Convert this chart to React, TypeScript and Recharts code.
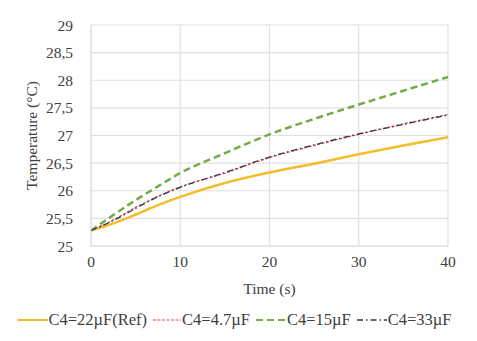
import { LineChart, Line, XAxis, YAxis, CartesianGrid, Legend } from "recharts";

const times = [0, 2.5, 5, 7.5, 10, 15, 20, 25, 30, 35, 40];
const c22ref = [25.28, 25.41, 25.57, 25.74, 25.89, 26.14, 26.33, 26.49, 26.66, 26.82, 26.97];
const c47 = [25.28, 25.47, 25.7, 25.9, 26.07, 26.32, 26.6, 26.82, 27.02, 27.21, 27.38];
const c15 = [25.28, 25.56, 25.83, 26.08, 26.32, 26.68, 27.02, 27.3, 27.56, 27.81, 28.06];
const c33 = [25.28, 25.46, 25.68, 25.89, 26.06, 26.33, 26.61, 26.83, 27.03, 27.2, 27.37];

const xTicks = [0, 10, 20, 30, 40];
const yTicks = [25, 25.5, 26, 26.5, 27, 27.5, 28, 28.5, 29];

const data = times.map((t, i) => ({
  t,
  c22ref: c22ref[i],
  c47: c47[i],
  c15: c15[i],
  c33: c33[i],
}));

const series = [
  { key: "c22ref", name: "C4=22µF(Ref)", color: "#F2BD2A", width: 2.5, dash: undefined, icon: 30 },
  { key: "c47", name: "C4=4.7µF", color: "#E0474C", width: 1.2, dash: "3 1.5", icon: 28 },
  { key: "c15", name: "C4=15µF", color: "#70AD47", width: 2.5, dash: "7 4", icon: 30 },
  { key: "c33", name: "C4=33µF", color: "#2E3A4A", width: 1.3, dash: "6 3 1.5 3", icon: 30 },
];

const font = "Liberation Serif";
const textColor = "#404040";

function LegendRow() {
  return (
    <div
      style={{
        display: "flex",
        justifyContent: "center",
        alignItems: "center",
        fontFamily: font,
        fontSize: 16.5,
        lineHeight: "18px",
        color: textColor,
        whiteSpace: "nowrap",
        marginLeft: -12,
      }}
    >
      {series.map((s) => (
        <span key={s.key} style={{ display: "inline-flex", alignItems: "center", marginRight: 6 }}>
          <svg width={s.icon} height={10} style={{ marginRight: 1 }}>
            <line
              x1={0}
              y1={5}
              x2={s.icon}
              y2={5}
              stroke={s.color}
              strokeWidth={s.width > 2 ? 2 : s.width}
              strokeDasharray={s.dash}
            />
          </svg>
          {s.name}
        </span>
      ))}
    </div>
  );
}

export default function App() {
  return (
    <div style={{ position: "absolute", left: 0, top: 0, background: "#fff" }}>
      <LineChart
        width={477}
        height={341}
        data={data}
        margin={{ top: 25, right: 29, left: 39, bottom: 4 }}
      >
        <CartesianGrid stroke="#e0e0e0" strokeWidth={1.2} />
        <XAxis
          dataKey="t"
          type="number"
          domain={[0, 40]}
          ticks={xTicks}
          tickLine={false}
          axisLine={{ stroke: "#e0e0e0" }}
          tick={{ fill: textColor, fontSize: 15.5, fontFamily: font }}
          tickMargin={4}
          height={73}
          label={{
            value: "Time (s)",
            position: "insideBottom",
            offset: 25,
            fill: textColor,
            fontSize: 15.5,
            fontFamily: font,
          }}
        />
        <YAxis
          type="number"
          domain={[25, 29]}
          ticks={yTicks}
          tickLine={false}
          axisLine={{ stroke: "#e0e0e0" }}
          tick={{ fill: textColor, fontSize: 15.5, fontFamily: font }}
          tickFormatter={(v: number) => String(v).replace(".", ",")}
          tickMargin={12}
          width={52}
          label={{
            value: "Temperature (°C)",
            angle: -90,
            position: "insideLeft",
            offset: -8,
            style: { textAnchor: "middle" },
            fill: textColor,
            fontSize: 15.5,
            fontFamily: font,
          }}
        />
        <Legend verticalAlign="bottom" content={() => <LegendRow />} wrapperStyle={{ bottom: 12 }} />
        {series.map((s) => (
          <Line
            key={s.key}
            type="monotone"
            dataKey={s.key}
            name={s.name}
            stroke={s.color}
            strokeWidth={s.width}
            strokeDasharray={s.dash}
            dot={false}
            isAnimationActive={false}
          />
        ))}
      </LineChart>
    </div>
  );
}
